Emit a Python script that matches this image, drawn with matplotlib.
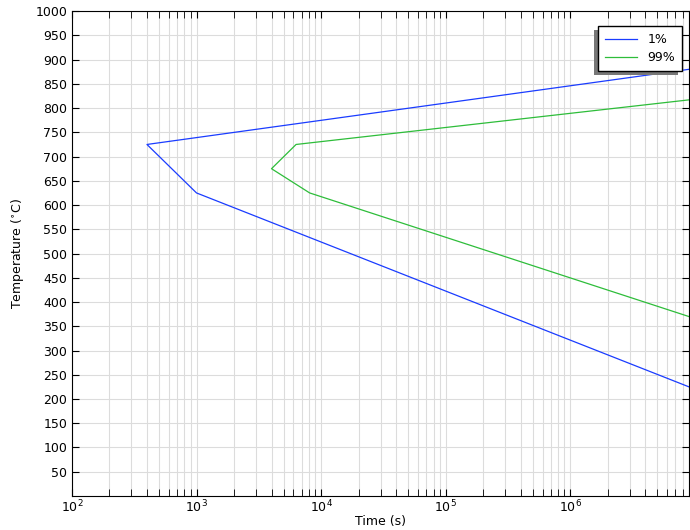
import matplotlib
matplotlib.use('Agg')
import matplotlib.pyplot as plt
from matplotlib.patches import Rectangle
import numpy as np

# TTT curve data, time in s, temperature in degC
t_1 = [9e6, 400, 1000, 9e6]
T_1 = [880, 725, 625, 225]
t_99 = [9e6, 6300, 4000, 8100, 9e6]
T_99 = [817, 725, 675, 625, 370]

yticks = list(range(50, 1001, 50))

plt.rcParams['font.size'] = 9
fig = plt.figure(figsize=(6.9, 5.3), dpi=100)
ax = fig.add_axes([0.1043, 0.0642, 0.8943, 0.9148])

ax.plot(t_1, T_1, color='#1a3cff', lw=0.9, label='1%')
ax.plot(t_99, T_99, color='#2ebd3a', lw=0.9, label='99%')

ax.set_xscale('log')
ax.set_xlim(1e2, 9e6)
ax.set_ylim(0, 1000)
ax.set_yticks(yticks)
ax.grid(True, which='both', color='#dcdcdc', lw=0.8)
ax.set_axisbelow(True)
ax.tick_params(which='both', direction='in', top=True, right=True, length=5)
ax.tick_params(axis='x', pad=2)
ax.set_xlabel('Time (s)', labelpad=0)
ax.set_ylabel(r'Temperature ($^{\circ}$C)', labelpad=7)

leg = ax.legend(loc='upper right', bbox_to_anchor=(0.9887, 0.969), borderaxespad=0,
                fancybox=False, framealpha=1, edgecolor='black', borderpad=0.55,
                handlelength=2.6, labelspacing=0.4, fontsize=9)
leg.get_frame().set_linewidth(1.0)
leg.set_zorder(6)

# shadow offset to lower left as in the reference
fig.canvas.draw()
bb = leg.get_window_extent()
sh = Rectangle((bb.x0 - 4, bb.y0 - 4), bb.width, bb.height, transform=None,
               facecolor='#777777', edgecolor='none', zorder=5.9)
ax.add_artist(sh)

fig.savefig('out.png', dpi=100)
